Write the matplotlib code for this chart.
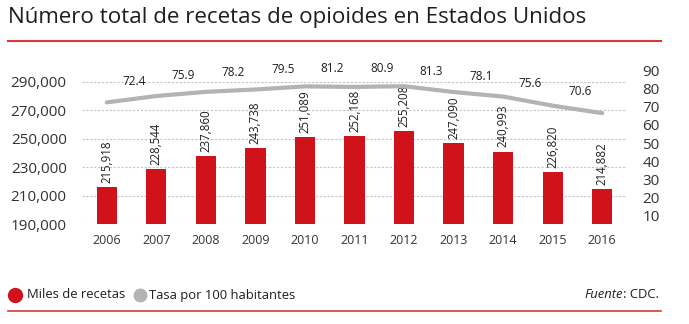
import matplotlib
matplotlib.use('Agg')
import matplotlib.pyplot as plt
from matplotlib.lines import Line2D

# Datos
anios = ['2006', '2007', '2008', '2009', '2010', '2011', '2012', '2013', '2014', '2015', '2016']
recetas = [215918, 228544, 237860, 243738, 251089, 252168, 255208, 247090, 240993, 226820, 214882]
tasa = [72.4, 75.9, 78.2, 79.5, 81.2, 80.9, 81.3, 78.1, 75.6, 70.6, 66.5]
tasa_etiquetas = ['72.4', '75.9', '78.2', '79.5', '81.2', '80.9', '81.3', '78.1', '75.6', '70.6']
ticks_izq = [190000, 210000, 230000, 250000, 270000, 290000]
ticks_der = [10, 20, 30, 40, 50, 60, 70, 80, 90]

ROJO = '#d0121b'
GRIS = '#b3b3b3'
TEXTO = '#1e1e1e'
W, H = 689, 324

plt.rcParams['font.family'] = ['Open Sans', 'DejaVu Sans']

fig = plt.figure(figsize=(W / 100, H / 100), dpi=100)
fig.patch.set_facecolor('white')

def fx(px):
    return px / W

def fy(py):
    return 1 - py / H

ax = fig.add_axes([fx(82), fy(224.3), fx(627) - fx(82), fy(70) - fy(224.3)])
x = list(range(len(anios)))

ax.bar(x, recetas, width=0.41, color=ROJO, zorder=3)
ax.set_ylim(190000, 298280)
ax.set_xlim(-0.5, 10.5)
ax.set_yticks(ticks_izq)
ax.set_yticklabels([f'{v:,}' for v in ticks_izq])
ax.set_xticks(x)
ax.set_xticklabels(anios)
ax.tick_params(axis='y', length=0, pad=11, labelsize=11, labelcolor='#333333')
ax.tick_params(axis='x', length=0, pad=7, labelsize=9, labelcolor='#333333')
ax.grid(axis='y', color='#c4c4c4', linestyle=(0, (2, 1.5)), linewidth=0.8, zorder=0)
for s in ax.spines.values():
    s.set_visible(False)

for i, v in enumerate(recetas):
    ax.annotate(f'{v:,}', (i, v), xytext=(0, 3), textcoords='offset points',
                rotation=90, ha='center', va='bottom', fontsize=8.3, color=TEXTO)

ax2 = ax.twinx()
ax2.plot(x, tasa, color=GRIS, linewidth=3, solid_capstyle='round', zorder=2)
ax2.set_ylim(5.44, 90.2)
ax2.set_yticks(ticks_der)
ax2.tick_params(axis='y', length=0, pad=11, labelsize=11, labelcolor='#333333')
for s in ax2.spines.values():
    s.set_visible(False)

for i, lab in enumerate(tasa_etiquetas):
    y_mid = (tasa[i] + tasa[i + 1]) / 2
    ax2.annotate(lab, (i + 0.55, y_mid), xytext=(0, 13), textcoords='offset points',
                 ha='center', va='center', fontsize=8.5, color=TEXTO)

# Titulo y lineas rojas
fig.text(fx(8), fy(18), 'Número total de recetas de opioides en Estados Unidos',
         fontsize=16.1, color=TEXTO, ha='left', va='center')
fig.add_artist(Line2D([fx(8), fx(661)], [fy(41), fy(41)], color='#d9383d', linewidth=1.5))
fig.add_artist(Line2D([fx(8), fx(661)], [fy(311), fy(311)], color='#d9383d', linewidth=1.2))

# Leyenda
fig.add_artist(Line2D([fx(15)], [fy(295)], marker='o', markersize=10, color=ROJO, linestyle=''))
fig.text(fx(27), fy(295), 'Miles de recetas', fontsize=9.4, color=TEXTO, ha='left', va='center')
fig.add_artist(Line2D([fx(140)], [fy(295)], marker='o', markersize=9, color=GRIS, linestyle=''))
fig.text(fx(149), fy(295), 'Tasa por 100 habitantes', fontsize=9.4, color=TEXTO, ha='left', va='center')

fuente = fig.text(fx(659), fy(295), ': CDC.', fontsize=9.4, color=TEXTO, ha='right', va='center')
fig.canvas.draw()
bb = fuente.get_window_extent(fig.canvas.get_renderer())
fig.text(bb.x0 / fig.bbox.width, fy(295), 'Fuente', fontsize=9.4, color=TEXTO,
         ha='right', va='center', style='italic')

fig.savefig('out.png', dpi=100)
